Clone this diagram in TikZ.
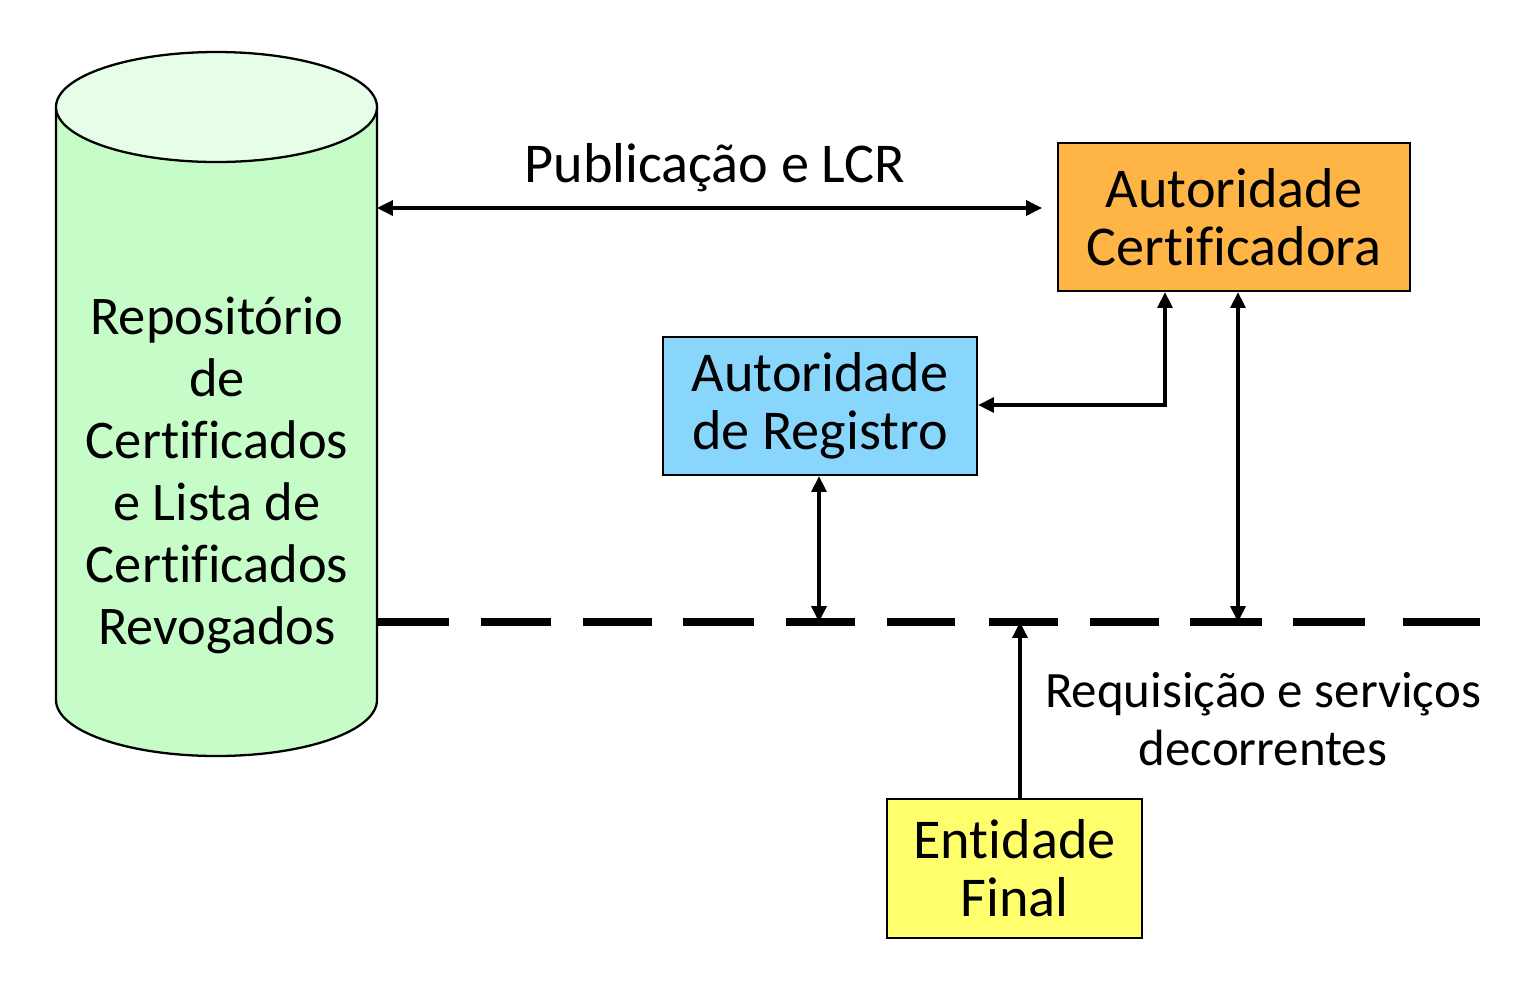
\documentclass[tikz,border=0pt]{standalone}
\usepackage{fontspec}
\setmainfont{Carlito}[Ligatures=NoCommon]
\usetikzlibrary{arrows.meta,calc}
\definecolor{cylbody}{HTML}{C6FCC8}
\definecolor{cyltop}{HTML}{E6FDE8}
\definecolor{acfill}{HTML}{FFB446}
\definecolor{arfill}{HTML}{88D6FC}
\definecolor{effill}{HTML}{FFFF6E}
\begin{document}
\begin{tikzpicture}[x=0.02cm,y=-0.02cm,
  box/.style={draw=black,line width=1.3pt,inner sep=0pt,align=center,
    font=\fontsize{32}{33}\selectfont},
  conn/.style={line width=1.8pt,{Triangle[length=9pt,width=8.5pt]}-{Triangle[length=9pt,width=8.5pt]}},
  conn1/.style={line width=1.8pt,-{Triangle[length=9pt,width=8.5pt]}},
  bus/.style={line width=5pt,dash pattern=on 1.44cm off 0.64cm on 1.40cm off 0.64cm
    on 1.38cm off 0.62cm on 1.42cm off 0.64cm on 1.38cm off 0.64cm on 1.36cm off 0.68cm
    on 1.38cm off 0.64cm on 1.38cm off 0.62cm on 1.44cm off 0.62cm on 1.44cm off 0.76cm
    on 1.54cm off 1cm},
  lbl/.style={font=\fontsize{29}{33}\selectfont,align=center}]
\useasboundingbox (0,0) rectangle (1536,992);
% cylinder
\draw[line width=1.3pt,fill=cylbody] (56,107) -- (56,700)
  arc[start angle=180,end angle=0,x radius=160.5,y radius=56] -- (377,107);
\draw[line width=1.3pt,fill=cyltop] (216.5,107) ellipse[x radius=160.5,y radius=55];
\node[align=center,font=\fontsize{31}{35.3}\selectfont] (rep) at (217,475)
  {Repositório\\de\\Certificados\\e Lista de\\Certificados\\Revogados};
\coordinate (repR) at (377,208);
% boxes
\node[box,fill=acfill,minimum width=352*0.02cm,minimum height=148*0.02cm] (ac) at (1234,217)
  {Autoridade\\Certificadora};
\node[box,fill=arfill,minimum width=314*0.02cm,minimum height=138*0.02cm] (ar) at (820,406)
  {Autoridade\\de Registro};
\node[box,fill=effill,minimum width=255*0.02cm,minimum height=139*0.02cm] (ef) at (1014.5,868.5)
  {Entidade\\Final};
% bus
\coordinate (busL) at (377,622);
\coordinate (busR) at (1480,622);
\draw[bus] (busL) -- (busR);
\coordinate (b1) at (819,622);
\coordinate (b2) at (1238,622);
\coordinate (b3) at (1020,622);
% connectors
\coordinate (acL) at (1042,208);
\draw[conn] (repR) -- (acL);
\node[lbl,font=\fontsize{32}{33}\selectfont] (pub) at (715,168) {Publicação e LCR};
\draw[conn] (ar.east |- 0,405) -- (1165,405) -- (1165,0 |- ac.south);
\draw[conn] (1238,0 |- ac.south) -- (b2);
\draw[conn] (819,0 |- ar.south) -- (b1);
\draw[conn1] (1020,0 |- ef.north) -- (b3);
\node[lbl] (req) at (1263,719) {Requisição e serviços\\decorrentes};
\end{tikzpicture}
\end{document}
